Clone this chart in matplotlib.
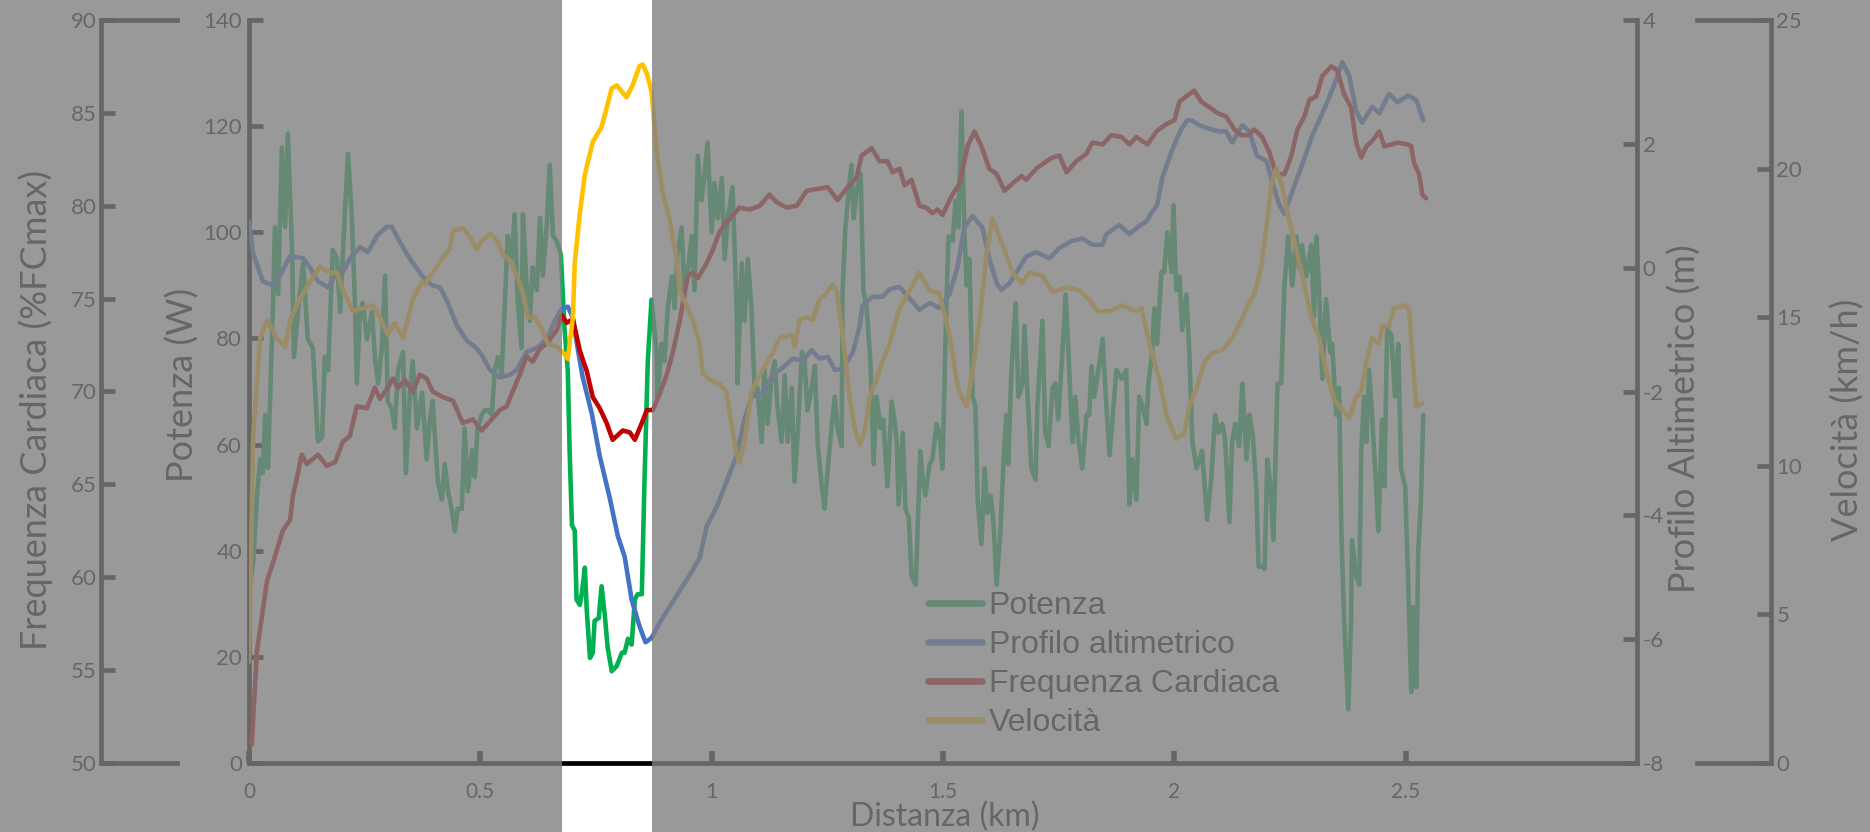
"""
Grafico multi-asse di una prova in bici: potenza, profilo altimetrico,
frequenza cardiaca e velocita' lungo la distanza. Il tratto evidenziato
resta in chiaro, il resto del grafico viene oscurato.
"""

import matplotlib
matplotlib.use('Agg')
import matplotlib.pyplot as plt
from matplotlib.lines import Line2D
from matplotlib.patches import Rectangle
from matplotlib.transforms import blended_transform_factory

# ---------------------------------------------------------------- dati
pot_km = [0.002, 0.009, 0.017, 0.024, 0.030, 0.035, 0.041, 0.052, 0.056, 0.063,
          0.071, 0.078, 0.084, 0.093, 0.097, 0.106, 0.117, 0.127, 0.138, 0.149,
          0.158, 0.164, 0.171, 0.181, 0.190, 0.197, 0.207, 0.214, 0.222, 0.229,
          0.233, 0.240, 0.246, 0.255, 0.266, 0.272, 0.279, 0.287, 0.294, 0.300,
          0.309, 0.315, 0.322, 0.333, 0.339, 0.348, 0.354, 0.363, 0.374, 0.384,
          0.391, 0.397, 0.408, 0.417, 0.423, 0.430, 0.438, 0.445, 0.451, 0.460,
          0.466, 0.473, 0.482, 0.488, 0.494, 0.503, 0.510, 0.516, 0.525, 0.531,
          0.538, 0.546, 0.553, 0.559, 0.568, 0.574, 0.581, 0.589, 0.592, 0.600,
          0.607, 0.613, 0.622, 0.629, 0.635, 0.644, 0.650, 0.657, 0.665, 0.674,
          0.682, 0.689, 0.693, 0.698, 0.704, 0.708, 0.715, 0.719, 0.726, 0.730,
          0.737, 0.743, 0.747, 0.756, 0.762, 0.769, 0.775, 0.784, 0.795, 0.806,
          0.812, 0.819, 0.827, 0.834, 0.840, 0.849, 0.855, 0.862, 0.870, 0.881,
          0.883, 0.892, 0.898, 0.905, 0.914, 0.920, 0.926, 0.935, 0.941, 0.948,
          0.957, 0.963, 0.970, 0.978, 0.985, 0.991, 1.000, 1.006, 1.013, 1.022,
          1.028, 1.035, 1.045, 1.054, 1.056, 1.065, 1.071, 1.078, 1.086, 1.093,
          1.099, 1.108, 1.114, 1.121, 1.129, 1.136, 1.142, 1.151, 1.158, 1.164,
          1.173, 1.179, 1.186, 1.195, 1.201, 1.207, 1.216, 1.223, 1.229, 1.238,
          1.244, 1.251, 1.259, 1.266, 1.272, 1.281, 1.283, 1.289, 1.296, 1.302,
          1.307, 1.313, 1.322, 1.328, 1.335, 1.343, 1.350, 1.356, 1.365, 1.371,
          1.380, 1.389, 1.395, 1.400, 1.404, 1.413, 1.419, 1.426, 1.432, 1.441,
          1.451, 1.456, 1.462, 1.471, 1.477, 1.486, 1.492, 1.499, 1.507, 1.512,
          1.521, 1.527, 1.533, 1.540, 1.546, 1.551, 1.557, 1.564, 1.570, 1.575,
          1.583, 1.590, 1.596, 1.603, 1.609, 1.616, 1.624, 1.631, 1.637, 1.641,
          1.648, 1.657, 1.663, 1.672, 1.676, 1.682, 1.691, 1.700, 1.704, 1.715,
          1.721, 1.728, 1.737, 1.743, 1.749, 1.758, 1.765, 1.771, 1.780, 1.786,
          1.793, 1.801, 1.810, 1.816, 1.821, 1.827, 1.836, 1.845, 1.853, 1.860,
          1.866, 1.875, 1.886, 1.896, 1.903, 1.909, 1.918, 1.924, 1.931, 1.940,
          1.944, 1.952, 1.957, 1.963, 1.972, 1.978, 1.985, 1.994, 1.998, 2.004,
          2.011, 2.017, 2.026, 2.032, 2.039, 2.048, 2.054, 2.060, 2.071, 2.080,
          2.088, 2.095, 2.104, 2.110, 2.119, 2.125, 2.132, 2.140, 2.147, 2.156,
          2.162, 2.169, 2.177, 2.182, 2.190, 2.195, 2.201, 2.208, 2.214, 2.223,
          2.231, 2.238, 2.246, 2.255, 2.264, 2.270, 2.276, 2.285, 2.296, 2.302,
          2.307, 2.313, 2.320, 2.328, 2.337, 2.341, 2.350, 2.356, 2.361, 2.367,
          2.376, 2.382, 2.384, 2.393, 2.400, 2.404, 2.410, 2.415, 2.421, 2.428,
          2.436, 2.441, 2.449, 2.454, 2.460, 2.469, 2.477, 2.484, 2.490, 2.499,
          2.505, 2.512, 2.516, 2.523, 2.527, 2.533, 2.538]
pot_w = [33.2, 38.0, 50.0, 57.3, 54.6, 65.6, 55.6, 86.7, 101.0, 88.4,
         116.0, 101.0, 118.6, 96.7, 76.5, 85.0, 94.2, 79.9, 78.2, 60.6,
         61.4, 76.5, 74.0, 96.7, 95.0, 85.0, 103.4, 114.8, 103.4, 86.7,
         71.5, 85.0, 86.7, 79.9, 85.0, 76.5, 71.5, 78.2, 91.8, 68.2,
         66.5, 63.1, 74.0, 77.4, 54.6, 69.8, 75.7, 63.1, 69.8, 57.2,
         64.8, 68.2, 53.0, 49.6, 56.3, 51.2, 47.9, 43.7, 47.9, 47.9,
         63.1, 51.2, 58.9, 53.9, 63.1, 65.6, 66.5, 66.5, 65.6, 74.0,
         76.5, 73.2, 86.7, 99.3, 95.0, 103.4, 86.7, 78.2, 103.4, 90.0,
         83.3, 93.4, 89.1, 102.7, 91.8, 101.8, 112.7, 99.3, 98.4, 95.8,
         81.8, 73.9, 58.8, 44.8, 43.8, 30.8, 29.8, 31.8, 36.8, 28.8,
         19.8, 20.8, 26.8, 27.3, 33.3, 27.9, 21.9, 17.3, 18.3, 20.8,
         20.8, 23.4, 22.3, 30.8, 31.8, 31.8, 53.8, 75.8, 87.3, 77.4,
         69.0, 79.0, 75.7, 85.7, 91.7, 85.7, 95.9, 100.9, 89.1, 92.5,
         99.3, 89.1, 114.4, 106.0, 111.0, 116.9, 100.0, 109.3, 102.6, 110.2,
         95.0, 102.6, 108.5, 85.7, 71.5, 94.2, 83.3, 95.0, 85.7, 69.8,
         70.7, 60.5, 74.1, 63.9, 72.4, 75.7, 67.3, 60.5, 73.1, 60.5,
         70.7, 53.0, 62.2, 77.4, 75.7, 66.4, 70.7, 74.8, 60.5, 52.1,
         47.9, 55.5, 63.1, 69.0, 63.1, 59.7, 89.1, 100.9, 107.6, 112.7,
         102.6, 107.6, 111.0, 89.1, 85.7, 75.7, 56.3, 69.0, 63.1, 64.7,
         52.1, 68.1, 64.7, 60.5, 48.7, 62.2, 47.9, 46.2, 35.3, 33.6,
         58.8, 53.8, 50.4, 56.3, 57.2, 63.9, 62.2, 55.5, 85.7, 99.2,
         98.4, 106.0, 100.9, 122.8, 100.9, 90.0, 95.0, 69.0, 67.3, 49.6,
         41.2, 55.5, 47.1, 50.4, 45.4, 33.6, 43.7, 57.2, 65.6, 56.3,
         74.1, 86.6, 69.0, 71.5, 82.4, 70.7, 55.5, 53.4, 67.3, 83.3,
         62.2, 59.7, 70.7, 71.5, 64.7, 77.4, 88.3, 77.4, 60.5, 69.0,
         60.5, 55.5, 65.6, 65.6, 74.8, 69.0, 74.1, 79.9, 67.3, 58.0,
         64.7, 74.1, 72.4, 74.1, 48.7, 57.2, 49.6, 69.0, 67.3, 63.9,
         71.5, 77.4, 85.7, 79.0, 92.5, 92.5, 100.0, 92.5, 105.1, 89.1,
         91.7, 81.6, 88.3, 78.2, 60.5, 55.5, 57.2, 58.8, 45.8, 53.8,
         65.6, 62.2, 63.9, 60.5, 45.4, 60.5, 63.9, 59.7, 71.5, 57.2,
         65.6, 62.2, 52.1, 37.0, 37.0, 36.6, 57.2, 52.1, 42.0, 71.5,
         71.5, 90.0, 99.2, 90.0, 99.2, 93.3, 97.6, 91.7, 97.6, 84.1,
         99.2, 89.1, 72.4, 87.4, 77.4, 79.0, 65.6, 70.7, 43.7, 26.9,
         10.1, 26.9, 42.0, 35.3, 33.6, 58.8, 69.0, 60.5, 74.1, 64.7,
         52.1, 43.7, 64.7, 52.1, 81.6, 80.7, 69.0, 79.0, 55.5, 52.1,
         35.3, 13.4, 29.4, 14.3, 39.5, 49.6, 65.6]

alt_km = [0.000, 0.009, 0.030, 0.050, 0.067, 0.089, 0.117, 0.132, 0.149, 0.171,
          0.190, 0.203, 0.218, 0.240, 0.257, 0.276, 0.298, 0.309, 0.322, 0.341,
          0.354, 0.374, 0.395, 0.413, 0.430, 0.449, 0.471, 0.492, 0.505, 0.521,
          0.542, 0.564, 0.579, 0.600, 0.622, 0.644, 0.661, 0.676, 0.689, 0.700,
          0.711, 0.721, 0.741, 0.758, 0.780, 0.797, 0.812, 0.827, 0.844, 0.857,
          0.870, 0.888, 0.909, 0.931, 0.952, 0.974, 0.989, 1.011, 1.032, 1.054,
          1.071, 1.086, 1.110, 1.132, 1.153, 1.175, 1.197, 1.216, 1.233, 1.251,
          1.266, 1.283, 1.305, 1.320, 1.326, 1.348, 1.369, 1.384, 1.406, 1.428,
          1.449, 1.471, 1.492, 1.514, 1.531, 1.546, 1.564, 1.585, 1.600, 1.616,
          1.626, 1.644, 1.665, 1.680, 1.702, 1.730, 1.752, 1.778, 1.801, 1.823,
          1.845, 1.853, 1.881, 1.903, 1.920, 1.940, 1.952, 1.963, 1.974, 1.994,
          2.004, 2.015, 2.028, 2.037, 2.054, 2.076, 2.097, 2.112, 2.125, 2.147,
          2.162, 2.179, 2.199, 2.212, 2.227, 2.238, 2.255, 2.276, 2.298, 2.313,
          2.328, 2.346, 2.363, 2.378, 2.393, 2.406, 2.428, 2.443, 2.464, 2.482,
          2.505, 2.523, 2.538]
alt_m = [0.74, 0.22, -0.22, -0.28, -0.13, 0.19, 0.15, 0.00, -0.22, -0.32,
         -0.07, -0.07, 0.15, 0.33, 0.25, 0.51, 0.66, 0.66, 0.47, 0.22,
         0.08, -0.13, -0.28, -0.32, -0.57, -0.93, -1.18, -1.30, -1.44, -1.65,
         -1.77, -1.73, -1.65, -1.36, -1.30, -1.15, -0.86, -0.66, -0.63, -0.81,
         -1.33, -1.76, -2.36, -3.04, -3.73, -4.33, -4.67, -5.36, -5.79, -6.05,
         -5.98, -5.73, -5.48, -5.22, -4.97, -4.69, -4.18, -3.86, -3.46, -3.03,
         -2.45, -2.09, -2.02, -1.73, -1.62, -1.47, -1.50, -1.33, -1.47, -1.44,
         -1.65, -1.64, -1.37, -0.94, -0.61, -0.47, -0.47, -0.35, -0.31, -0.50,
         -0.68, -0.57, -0.65, -0.43, 0.00, 0.65, 0.83, 0.65, 0.15, -0.25,
         -0.36, -0.25, 0.00, 0.18, 0.25, 0.15, 0.32, 0.43, 0.47, 0.37,
         0.37, 0.54, 0.69, 0.54, 0.65, 0.75, 0.90, 1.01, 1.45, 1.87,
         2.06, 2.24, 2.38, 2.38, 2.30, 2.24, 2.20, 2.20, 2.02, 2.30,
         2.20, 1.80, 1.73, 1.37, 1.01, 0.87, 1.23, 1.66, 2.13, 2.38,
         2.63, 2.96, 3.32, 3.10, 2.53, 2.34, 2.60, 2.49, 2.81, 2.67,
         2.78, 2.71, 2.38]

fc_km = [0.006, 0.017, 0.039, 0.052, 0.073, 0.089, 0.095, 0.104, 0.114, 0.125,
         0.149, 0.168, 0.186, 0.203, 0.218, 0.233, 0.255, 0.272, 0.283, 0.300,
         0.311, 0.322, 0.337, 0.354, 0.369, 0.384, 0.397, 0.419, 0.441, 0.462,
         0.484, 0.503, 0.521, 0.542, 0.557, 0.570, 0.585, 0.600, 0.613, 0.629,
         0.644, 0.665, 0.676, 0.687, 0.700, 0.715, 0.730, 0.743, 0.758, 0.773,
         0.786, 0.808, 0.823, 0.834, 0.849, 0.860, 0.873, 0.888, 0.903, 0.916,
         0.931, 0.948, 0.959, 0.970, 0.989, 1.002, 1.017, 1.039, 1.060, 1.082,
         1.104, 1.125, 1.140, 1.162, 1.184, 1.205, 1.227, 1.251, 1.272, 1.294,
         1.313, 1.324, 1.346, 1.363, 1.380, 1.391, 1.406, 1.417, 1.432, 1.449,
         1.464, 1.477, 1.488, 1.499, 1.518, 1.536, 1.553, 1.568, 1.583, 1.600,
         1.616, 1.633, 1.650, 1.670, 1.680, 1.702, 1.724, 1.737, 1.752, 1.767,
         1.788, 1.810, 1.823, 1.845, 1.864, 1.886, 1.903, 1.918, 1.942, 1.961,
         1.983, 2.000, 2.011, 2.026, 2.043, 2.058, 2.076, 2.093, 2.112, 2.130,
         2.145, 2.158, 2.173, 2.190, 2.205, 2.220, 2.238, 2.253, 2.266, 2.281,
         2.292, 2.307, 2.320, 2.339, 2.352, 2.367, 2.382, 2.393, 2.404, 2.415,
         2.428, 2.443, 2.454, 2.469, 2.482, 2.505, 2.512, 2.518, 2.529, 2.536,
         2.544]
fc_pct = [51.0, 56.0, 59.8, 60.8, 62.5, 63.1, 64.4, 65.4, 66.6, 66.1,
          66.6, 66.0, 66.2, 67.3, 67.6, 69.2, 69.1, 70.2, 69.6, 70.2,
          70.7, 70.2, 70.6, 70.0, 70.9, 70.7, 70.0, 69.7, 69.5, 68.3,
          68.5, 67.9, 68.4, 69.0, 69.2, 70.0, 70.9, 71.9, 71.6, 72.3,
          72.6, 73.3, 74.1, 73.7, 73.9, 72.2, 71.1, 69.7, 69.1, 68.3,
          67.4, 67.9, 67.8, 67.4, 68.3, 69.0, 69.0, 69.9, 70.9, 72.1,
          73.8, 76.2, 76.4, 76.1, 76.9, 77.6, 78.6, 79.3, 79.9, 79.8,
          80.0, 80.6, 80.2, 79.9, 80.0, 80.8, 80.9, 81.0, 80.3, 81.0,
          81.5, 82.7, 83.1, 82.4, 82.4, 81.8, 82.0, 81.1, 81.4, 80.0,
          79.9, 79.6, 79.8, 79.5, 80.5, 81.2, 83.2, 84.0, 83.2, 82.0,
          81.7, 80.8, 81.2, 81.6, 81.4, 82.0, 82.4, 82.6, 82.7, 81.8,
          82.4, 82.8, 83.4, 83.3, 83.8, 83.7, 83.3, 83.7, 83.3, 84.0,
          84.4, 84.6, 85.6, 85.9, 86.2, 85.6, 85.3, 85.0, 84.8, 84.1,
          83.8, 83.8, 84.1, 83.7, 82.9, 81.7, 81.7, 82.7, 84.1, 84.8,
          85.7, 85.9, 87.0, 87.5, 87.3, 86.0, 85.3, 83.4, 82.6, 83.2,
          83.5, 84.0, 83.2, 83.3, 83.4, 83.3, 83.2, 82.3, 81.7, 80.6,
          80.4]

vel_km = [0.000, 0.009, 0.024, 0.039, 0.060, 0.078, 0.089, 0.106, 0.132, 0.153,
          0.175, 0.190, 0.203, 0.225, 0.246, 0.268, 0.283, 0.300, 0.315, 0.333,
          0.354, 0.374, 0.380, 0.419, 0.434, 0.441, 0.462, 0.477, 0.492, 0.505,
          0.521, 0.536, 0.549, 0.564, 0.579, 0.592, 0.603, 0.618, 0.633, 0.646,
          0.667, 0.682, 0.689, 0.700, 0.704, 0.715, 0.726, 0.743, 0.762, 0.769,
          0.784, 0.795, 0.816, 0.829, 0.844, 0.851, 0.860, 0.870, 0.881, 0.894,
          0.909, 0.924, 0.931, 0.959, 0.974, 0.981, 0.996, 1.017, 1.032, 1.043,
          1.054, 1.060, 1.071, 1.086, 1.104, 1.132, 1.147, 1.175, 1.179, 1.190,
          1.205, 1.218, 1.233, 1.248, 1.261, 1.270, 1.283, 1.298, 1.309, 1.320,
          1.330, 1.341, 1.356, 1.369, 1.384, 1.406, 1.428, 1.449, 1.471, 1.492,
          1.514, 1.529, 1.536, 1.551, 1.564, 1.579, 1.594, 1.607, 1.622, 1.637,
          1.650, 1.670, 1.687, 1.715, 1.737, 1.767, 1.795, 1.816, 1.834, 1.860,
          1.888, 1.918, 1.929, 1.946, 1.968, 1.983, 2.004, 2.022, 2.032, 2.048,
          2.065, 2.082, 2.104, 2.125, 2.145, 2.156, 2.173, 2.188, 2.199, 2.210,
          2.220, 2.233, 2.248, 2.266, 2.285, 2.298, 2.313, 2.328, 2.346, 2.363,
          2.378, 2.393, 2.404, 2.415, 2.428, 2.443, 2.449, 2.464, 2.475, 2.501,
          2.508, 2.514, 2.523, 2.536]
vel_kmh = [3.4, 11.0, 14.3, 14.9, 14.3, 14.0, 14.9, 15.5, 16.2, 16.7,
           16.5, 16.5, 15.9, 15.2, 15.3, 15.4, 15.0, 14.4, 14.8, 14.3,
           15.6, 16.2, 16.1, 17.0, 17.3, 17.9, 18.0, 17.7, 17.3, 17.6,
           17.8, 17.6, 17.1, 16.9, 16.4, 15.8, 15.0, 15.0, 14.6, 14.1,
           14.0, 13.75, 13.6, 15.0, 16.8, 18.5, 19.8, 20.9, 21.4, 21.8,
           22.7, 22.8, 22.4, 22.8, 23.45, 23.5, 23.2, 22.6, 20.6, 19.2,
           18.3, 17.0, 15.9, 14.9, 14.1, 13.1, 12.9, 12.75, 12.5, 11.4,
           10.4, 10.1, 10.8, 12.5, 13.05, 13.8, 14.3, 14.4, 14.0, 14.9,
           15.0, 14.9, 15.6, 15.8, 16.1, 15.9, 14.4, 12.3, 11.3, 10.7,
           11.1, 12.3, 12.9, 13.5, 14.1, 15.3, 15.9, 16.5, 15.9, 15.8,
           14.4, 12.9, 12.45, 12.0, 13.2, 14.9, 17.1, 18.3, 17.7, 17.1,
           16.5, 16.15, 16.5, 16.4, 15.85, 16.0, 15.9, 15.6, 15.2, 15.2,
           15.4, 15.2, 15.3, 14.1, 12.9, 11.7, 10.9, 11.1, 12.0, 12.6,
           13.5, 13.8, 13.9, 14.3, 14.9, 15.3, 15.8, 16.7, 18.0, 19.5,
           20.0, 19.4, 18.3, 17.1, 15.8, 14.9, 14.3, 13.2, 12.2, 11.9,
           11.6, 12.3, 12.5, 13.5, 14.3, 14.1, 14.7, 14.7, 15.3, 15.4,
           15.2, 13.8, 12.0, 12.1]

# tratto evidenziato (km)
band_km = (0.676, 0.870)

series_labels = ['Potenza', 'Profilo altimetrico', 'Frequenza Cardiaca', 'Velocità']
x_ticks = [0, 0.5, 1, 1.5, 2, 2.5]
x_tick_labels = ['0', '0.5', '1', '1.5', '2', '2.5']
pot_ticks = [0, 20, 40, 60, 80, 100, 120, 140]
fc_ticks = [50, 55, 60, 65, 70, 75, 80, 85, 90]
alt_ticks = [-8, -6, -4, -2, 0, 2, 4]
vel_ticks = [0, 5, 10, 15, 20, 25]

GREEN = '#00B050'
BLUE = '#4472C4'
RED = '#C00000'
YELLOW = '#FFC000'

SPINE_LW = 3.4
LINE_LW = 3.3


def style_yaxis(axis, side, ticks, position=None):
    """Show one spine and put inward ticks on it."""
    for name, sp in axis.spines.items():
        sp.set_visible(name == side)
    sp = axis.spines[side]
    sp.set_linewidth(SPINE_LW)
    sp.set_color('black')
    sp.set_capstyle('projecting')
    if position is not None:
        sp.set_position(('axes', position))
    if side == 'left':
        axis.yaxis.set_ticks_position('left')
    else:
        axis.yaxis.set_ticks_position('right')
    axis.set_yticks(ticks)
    axis.tick_params(axis='y', direction='in', length=10, width=SPINE_LW,
                     pad=4, labelsize=16, colors='black')


def make_chart(path='out.png'):
    plt.rcParams['font.family'] = ['Lato', 'DejaVu Sans']
    plt.rcParams['axes.unicode_minus'] = False

    W, H = 1870, 832
    fig = plt.figure(figsize=(W / 100, H / 100), dpi=100)
    fig.patch.set_facecolor('white')
    ax = fig.add_axes([249 / W, 69 / H, 1388 / W, 743 / H])
    ax.patch.set_visible(False)

    ax_alt = ax.twinx()
    ax_fc = ax.twinx()
    ax_v = ax.twinx()

    kw = dict(lw=LINE_LW, solid_joinstyle='round', solid_capstyle='round')
    ax.plot(pot_km, pot_w, color=GREEN, **kw)
    ax_alt.plot(alt_km, alt_m, color=BLUE, **kw)
    ax_fc.plot(fc_km, fc_pct, color=RED, **kw)
    ax_v.plot(vel_km, vel_kmh, color=YELLOW, **kw)

    ax.set_xlim(0, 3)
    ax.set_ylim(0, 140)
    ax_alt.set_ylim(-8, 4)
    ax_fc.set_ylim(50, 90)
    ax_v.set_ylim(0, 25)

    style_yaxis(ax, 'left', pot_ticks)
    ax.tick_params(axis='y', pad=5)
    ax.spines['bottom'].set_visible(True)
    ax.spines['bottom'].set_linewidth(SPINE_LW)
    ax.spines['bottom'].set_capstyle('projecting')
    ax.set_xticks(x_ticks)
    ax.set_xticklabels(x_tick_labels)
    ax.tick_params(axis='x', direction='in', length=9, width=4, pad=14,
                   labelsize=15)

    style_yaxis(ax_alt, 'right', alt_ticks)
    style_yaxis(ax_fc, 'left', fc_ticks, position=-0.1066)
    ax_fc.tick_params(axis='y', pad=3)
    style_yaxis(ax_v, 'right', vel_ticks, position=1.0965)

    # trattini orizzontali alle estremita' degli assi esterni
    for yy in (0, 1):
        ax.plot([-0.1066, -0.0519], [yy, yy], transform=ax.transAxes,
                clip_on=False, color='black', lw=SPINE_LW,
                solid_capstyle='projecting')
        ax.plot([1.0432, 1.0965], [yy, yy], transform=ax.transAxes,
                clip_on=False, color='black', lw=SPINE_LW,
                solid_capstyle='projecting')

    # titoli degli assi
    lab = dict(rotation=90, ha='center', va='center', fontsize=26,
               transform=ax.transAxes)
    ax.text(-0.1535, 0.475, 'Frequenza Cardiaca (%FCmax)', **lab)
    ax.text(-0.0476, 0.509, 'Potenza (W)', **lab)
    ax.text(1.0346, 0.464, 'Profilo Altimetrico (m)', **lab)
    ax.text(1.152, 0.462, 'Velocità (km/h)', **lab)
    ax.text(0.5014, -0.072, 'Distanza (km)', ha='center', va='center',
            fontsize=23, transform=ax.transAxes)

    handles = [Line2D([], [], color=c, lw=4.8, solid_capstyle='round')
               for c in (GREEN, BLUE, RED, YELLOW)]
    fig.legend(handles, series_labels, loc='upper left',
               bbox_to_anchor=(928 / W, 1 - 591 / H), frameon=False,
               prop={'family': 'Liberation Sans', 'size': 23},
               handlelength=1.7, handletextpad=0.2, labelspacing=0.28,
               borderpad=0, borderaxespad=0)

    # velo grigio fuori dal tratto evidenziato
    trans = blended_transform_factory(ax.transData, fig.transFigure)
    shade = dict(transform=trans, facecolor='#808080', alpha=0.8,
                 edgecolor='none', zorder=10)
    fig.add_artist(Rectangle((-1, 0), band_km[0] + 1, 1, **shade))
    fig.add_artist(Rectangle((band_km[1], 0), 5, 1, **shade))

    fig.savefig(path, dpi=100, facecolor='white')


if __name__ == '__main__':
    make_chart()
